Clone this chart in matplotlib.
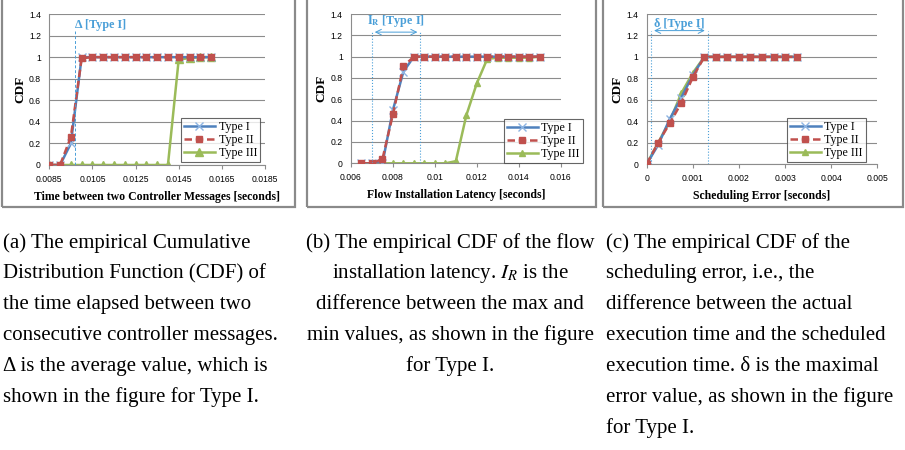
import matplotlib
matplotlib.use("Agg")
import matplotlib.pyplot as plt
from matplotlib.patches import Rectangle

plt.rcParams["mathtext.fontset"] = "stix"

BLUE = "#4f81bd"
RED = "#c0504d"
GREEN = "#9bbb59"
NOTE = "#4a9fd8"
GRID = "#8c8c8c"
SERIF = "Liberation Serif"
SANS = "Liberation Sans"

# (a) time between two controller messages
a_x12 = [0.0085, 0.009, 0.0095, 0.010, 0.0105, 0.011, 0.0115, 0.012, 0.0125,
         0.013, 0.0135, 0.014, 0.0145, 0.015, 0.0155, 0.016]
a_type1 = [0, 0, 0.20, 1.0, 1, 1, 1, 1, 1, 1, 1, 1, 1, 1, 1, 1]
a_type2 = [0, 0, 0.26, 0.99, 1, 1, 1, 1, 1, 1, 1, 1, 1, 1, 1, 1]
a_x3 = a_x12
a_type3 = [0, 0, 0, 0, 0, 0, 0, 0, 0, 0, 0, 0, 0.98, 0.99, 1.0, 1.0]
a_xticks = [0.0085, 0.0105, 0.0125, 0.0145, 0.0165, 0.0185]
a_delta = 0.0097

# (b) flow installation latency
b_x = [0.0065, 0.007, 0.0075, 0.008, 0.0085, 0.009, 0.0095, 0.010, 0.0105,
       0.011, 0.0115, 0.012, 0.0125, 0.013, 0.0135, 0.014, 0.0145, 0.015]
b_type1 = [0, 0, 0.0, 0.50, 0.86, 1, 1, 1, 1, 1, 1, 1, 1, 1, 1, 1, 1, 1]
b_type2 = [0, 0, 0.04, 0.46, 0.91, 1, 1, 1, 1, 1, 1, 1, 1, 1, 1, 1, 1, 1]
b_type3 = [0, 0, 0, 0, 0, 0, 0, 0, 0, 0.02, 0.45, 0.75, 0.98, 0.99, 0.99, 0.99, 0.99, 1.0]
b_xticks = [0.006, 0.008, 0.01, 0.012, 0.014, 0.016]
b_range = (0.007, 0.0093)

# (c) scheduling error
c_x = [0, 0.00025, 0.0005, 0.00075, 0.001, 0.00125, 0.0015, 0.00175, 0.002,
       0.00225, 0.0025, 0.00275, 0.003, 0.00325]
c_type1 = [0, 0.18, 0.42, 0.62, 0.83, 1.0, 1, 1, 1, 1, 1, 1, 1, 1]
c_type2 = [0, 0.20, 0.38, 0.57, 0.81, 1.0, 1, 1, 1, 1, 1, 1, 1, 1]
c_type3 = [0, 0.20, 0.40, 0.66, 0.85, 1.0, 1, 1, 1, 1, 1, 1, 1, 1]
c_xticks = [0, 0.001, 0.002, 0.003, 0.004, 0.005]
c_range = (0.0001, 0.00132)

y_ticks = [0, 0.2, 0.4, 0.6, 0.8, 1, 1.2, 1.4]
y_labels = ["0", "0.2", "0.4", "0.6", "0.8", "1", "1.2", "1.4"]

captions = [
    ["(a) The empirical Cumulative",
     "Distribution Function (CDF) of",
     "the time elapsed between two",
     "consecutive controller messages.",
     "\u0394 is the average value, which is",
     "shown in the figure for Type I."],
    ["(b) The empirical CDF of the flow",
     "installation latency. $I_R$ is the",
     "difference between the max and",
     "min values, as shown in the figure",
     "for Type I."],
    ["(c) The empirical CDF of the",
     "scheduling error, i.e., the",
     "difference between the actual",
     "execution time and the scheduled",
     "execution time. \u03b4 is the maximal",
     "error value, as shown in the figure",
     "for Type I."],
]

W, H = 905, 450
fig = plt.figure(figsize=(W / 100, H / 100), dpi=100)


def px_axes(x0, x1, ytop, ybot):
    return fig.add_axes([x0 / W, 1 - ybot / H, (x1 - x0) / W, (ybot - ytop) / H])


def frame(x0, x1):
    fig.patches.append(Rectangle((x0 / W, 1 - 207 / H), (x1 - x0) / W, 1.0,
                                 transform=fig.transFigure, fill=False,
                                 edgecolor="#8a8a8a", linewidth=1.6, zorder=0))


def style(ax, xticks, xlim, xlabel, xfmt):
    ax.set_ylim(0, 1.4)
    ax.set_xlim(*xlim)
    ax.set_yticks(y_ticks)
    ax.set_yticklabels(y_labels)
    ax.set_xticks(xticks)
    ax.set_xticklabels([xfmt(v) for v in xticks])
    ax.grid(axis="y", color=GRID, linewidth=0.8)
    ax.set_axisbelow(True)
    for s in ("top", "right"):
        ax.spines[s].set_visible(False)
    for s in ("left", "bottom"):
        ax.spines[s].set_color(GRID)
        ax.spines[s].set_linewidth(0.8)
    ax.tick_params(axis="y", length=0, pad=6, labelsize=6.2)
    ax.tick_params(axis="x", length=3, color=GRID, pad=4, labelsize=6.2)
    for lab in ax.get_xticklabels() + ax.get_yticklabels():
        lab.set_family(SANS)
    ax.set_xlabel(xlabel, family=SERIF, fontweight="bold", fontsize=8.5, labelpad=5)
    ax.set_ylabel("CDF", family=SERIF, fontweight="bold", fontsize=9.5, labelpad=2)


def series(ax, x1, y1, x2, y2, x3, y3, ms3, anchor):
    ax.plot(x1, y1, color=BLUE, lw=1.8, marker="x", ms=5.5, mec="#8db4e2", mew=1.0,
            label="Type I", zorder=3)
    ax.plot(x2, y2, color=RED, lw=1.8, ls=(0, (3, 1.5)), marker="s", ms=3.8,
            mec=RED, label="Type II", zorder=4)
    ax.plot(x3, y3, color=GREEN, lw=1.8, marker="^", ms=ms3, mec=GREEN,
            label="Type III", zorder=2)
    leg = ax.legend(loc="lower right", bbox_to_anchor=anchor, prop={"family": SERIF, "size": 8.6},
                    frameon=True, fancybox=False, edgecolor="#404040", handlelength=2.6,
                    borderpad=0.25, labelspacing=0.08, handletextpad=0.3, borderaxespad=0)
    leg.get_frame().set_linewidth(0.8)
    leg.set_zorder(10)


frame(2, 295)
frame(307, 596)
frame(603, 903)

# (a)
ax = px_axes(49.3, 265, 14, 165)
series(ax, a_x12, a_type1, a_x12, a_type2, a_x3, a_type3, 5.5, (0.977, 0.02))
style(ax, a_xticks, (0.0085, 0.0185), "Time between two Controller Messages [seconds]",
      lambda v: f"{v:.4f}")
ax.plot([a_delta, a_delta], [0, 1.24], color=NOTE, lw=0.7, ls=(0, (3, 2)), zorder=5)
ax.text(a_delta, 1.30, "\u0394 [Type I]", color=NOTE, family=SERIF, fontweight="bold",
        fontsize=8.7, ha="left", va="center")

# (b)
ax = px_axes(351, 560.7, 14, 163.3)
series(ax, b_x, b_type1, b_x, b_type2, b_x, b_type3, 3.8, (1.106, 0.0))
style(ax, b_xticks, (0.006, 0.016), "Flow Installation Latency [seconds]",
      lambda v: f"{v:g}")
for xv in b_range:
    ax.plot([xv, xv], [0, 1.24], color=NOTE, lw=0.8, ls=":", zorder=5)
ax.annotate("", xy=(b_range[0], 1.23), xytext=(b_range[1], 1.23),
            arrowprops=dict(arrowstyle="<->", color=NOTE, lw=0.7))
ax.text(sum(b_range) / 2, 1.33, "$\\mathbf{I_R}$ [Type I]", color=NOTE, family=SERIF,
        fontweight="bold", fontsize=8.7, ha="center", va="center")

# (c)
ax = px_axes(646.7, 877.3, 14, 164)
series(ax, c_x, c_type1, c_x, c_type2, c_x, c_type3, 3.8, (0.95, 0.013))
style(ax, c_xticks, (0, 0.005), "Scheduling Error [seconds]", lambda v: f"{v:g}")
for xv in c_range:
    ax.plot([xv, xv], [0, 1.24], color=NOTE, lw=0.8, ls=":", zorder=5)
ax.annotate("", xy=(c_range[0], 1.245), xytext=(c_range[1], 1.245),
            arrowprops=dict(arrowstyle="<->", color=NOTE, lw=0.7))
ax.text(sum(c_range) / 2, 1.31, "\u03b4 [Type I]", color=NOTE, family=SERIF,
        fontweight="bold", fontsize=8.7, ha="center", va="center")

# captions
cap_x = [(3, "left"), (450, "center"), (606, "left")]
for (cx, ha), lines in zip(cap_x, captions):
    for i, line in enumerate(lines):
        fig.text(cx / W, 1 - (243 + i * 30.8) / H, line, family=SERIF, fontsize=15,
                 ha=ha, va="center")

fig.savefig("out.png", dpi=100)
